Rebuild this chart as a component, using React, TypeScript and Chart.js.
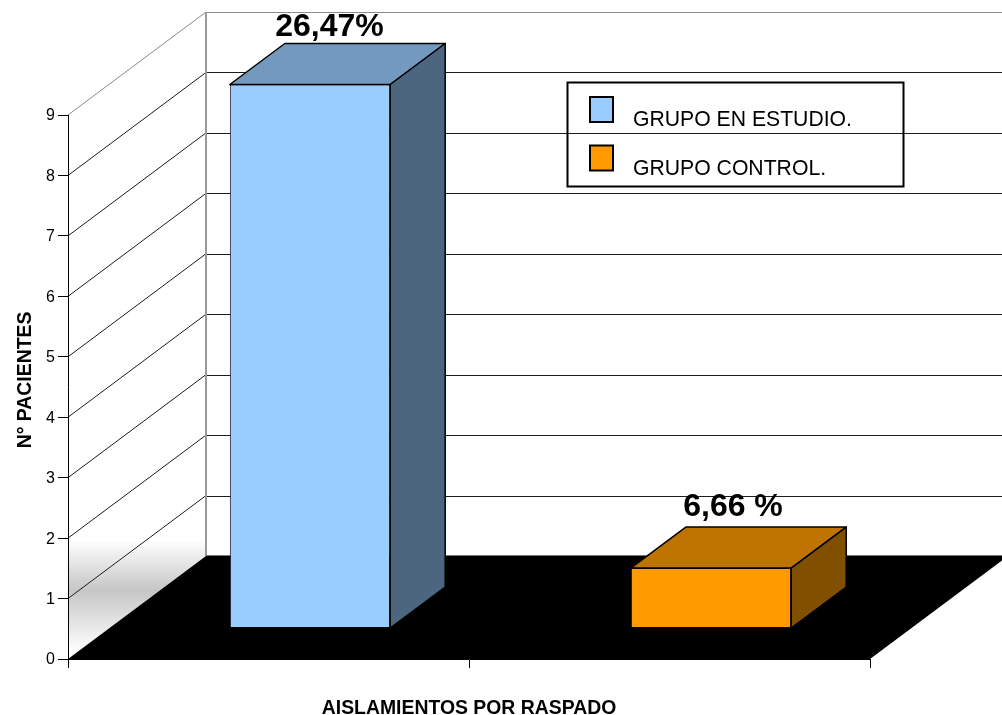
import React, { useEffect, useRef } from "react";
import { Chart, registerables } from "chart.js";

Chart.register(...registerables);

const categories = ["GRUPO EN ESTUDIO.", "GRUPO CONTROL."];
const patients = [9, 1];
const percentLabels = ["26,47%", "6,66 %"];
const frontColors = ["#99CCFF", "#FF9900"];
const topColors = ["#7399BF", "#BF7300"];
const sideColors = ["#4D6680", "#805000"];
const yTicks = [0, 1, 2, 3, 4, 5, 6, 7, 8, 9];
const yAxisTitle = "N° PACIENTES";

const FONT = "'Liberation Sans', Arial, sans-serif";
// Perspective offsets of the box: the whole floor, the bar depth and the bar's inset from the front edge.
const WALL_DX = 138;
const WALL_DY = -103;
const BAR_DX = 55;
const BAR_DY = -41;
const INSET_DX = 41.5;
const INSET_DY = -30.5;
// Where each percentage sits relative to its bar's front top centre.
const PERCENT_SHIFT_X = [19.5, 22];
const PERCENT_SHIFT_Y = [-49, -52];

const snap = (v: number) => Math.round(v) + 0.5;

function segment(ctx: CanvasRenderingContext2D, x1: number, y1: number, x2: number, y2: number, color: string, width = 1) {
  ctx.strokeStyle = color;
  ctx.lineWidth = width;
  ctx.beginPath();
  ctx.moveTo(x1, y1);
  ctx.lineTo(x2, y2);
  ctx.stroke();
}

function polygon(ctx: CanvasRenderingContext2D, pts: number[][], fill: string, stroke?: string) {
  ctx.beginPath();
  pts.forEach(([x, y], i) => (i ? ctx.lineTo(x, y) : ctx.moveTo(x, y)));
  ctx.closePath();
  ctx.fillStyle = fill;
  ctx.fill();
  if (stroke) {
    ctx.strokeStyle = stroke;
    ctx.lineWidth = 1.5;
    ctx.stroke();
  }
}

// Side wall, back wall, their grid lines and the black floor.
const roomPlugin = {
  id: "room",
  beforeDraw(chart: any) {
    const { ctx, chartArea, scales, width } = chart;
    const { left, right, top, bottom } = chartArea;
    const y = scales.y;
    ctx.save();
    ctx.fillStyle = "#FFFFFF";
    ctx.fillRect(0, 0, chart.width, chart.height);

    const band = ctx.createLinearGradient(0, 540, 0, 652);
    band.addColorStop(0, "#FFFFFF");
    band.addColorStop(0.45, "#C6C6C6");
    band.addColorStop(1, "#FFFFFF");
    polygon(ctx, [[left, 540], [left + WALL_DX, 540], [left + WALL_DX, bottom + WALL_DY], [left, bottom]], band);

    for (const v of yTicks) {
      const py = y.getPixelForValue(v);
      const backY = snap(py + WALL_DY);
      const color = v === 9 ? "#8A8A8A" : "#1C1C1C";
      if (v > 0) {
        segment(ctx, left, py, left + WALL_DX, py + WALL_DY, color);
        segment(ctx, left + WALL_DX, backY, width, backY, color);
      }
    }
    segment(ctx, left + WALL_DX, top + WALL_DY, left + WALL_DX, bottom + WALL_DY, "#9A9A9A", 2);

    polygon(ctx, [[left, bottom], [right, bottom], [right + WALL_DX, bottom + WALL_DY], [left + WALL_DX, bottom + WALL_DY]], "#000000");
    segment(ctx, left + WALL_DX, bottom + WALL_DY - 0.5, width, bottom + WALL_DY - 0.5, "#777777");
    ctx.restore();
  },
};

// The native bars are the front faces, pushed back into the room; top and side faces follow them.
const boxPlugin = {
  id: "box",
  beforeDatasetDraw(chart: any) {
    chart.ctx.save();
    chart.ctx.translate(INSET_DX, INSET_DY);
  },
  afterDatasetDraw(chart: any, args: any) {
    const { ctx } = chart;
    ctx.lineJoin = "round";
    args.meta.data.forEach((bar: any, i: number) => {
      const half = bar.width / 2;
      const l = bar.x - half;
      const r = bar.x + half;
      const t = bar.y;
      const b = bar.base;
      polygon(ctx, [[l, t], [r, t], [r + BAR_DX, t + BAR_DY], [l + BAR_DX, t + BAR_DY]], topColors[i], "#000000");
      polygon(ctx, [[r, t], [r + BAR_DX, t + BAR_DY], [r + BAR_DX, b + BAR_DY], [r, b]], sideColors[i], "#000000");
      ctx.fillStyle = "#000000";
      ctx.font = `bold 32px ${FONT}`;
      ctx.textAlign = "center";
      ctx.textBaseline = "alphabetic";
      ctx.fillText(percentLabels[i], bar.x + PERCENT_SHIFT_X[i], t + PERCENT_SHIFT_Y[i]);
    });
    ctx.restore();
  },
};

// Framed key sitting over the grid lines, plus the rotated value-axis title.
const annotationPlugin = {
  id: "annotations",
  afterDraw(chart: any) {
    const { ctx } = chart;
    ctx.save();
    ctx.strokeStyle = "#000000";
    ctx.lineWidth = 2;
    ctx.strokeRect(567.5, 82.5, 336, 104);
    categories.forEach((name, i) => {
      const rowY = 97 + i * 48.5;
      ctx.fillStyle = frontColors[i];
      ctx.fillRect(590, rowY, 23, 25);
      ctx.strokeRect(590, rowY, 23, 25);
      ctx.fillStyle = "#000000";
      ctx.font = `21.2px ${FONT}`;
      ctx.textAlign = "left";
      ctx.textBaseline = "alphabetic";
      ctx.fillText(name, 633, 126 + i * 49);
    });
    ctx.translate(30.5, 380);
    ctx.rotate(-Math.PI / 2);
    ctx.fillStyle = "#000000";
    ctx.font = `bold 19.4px ${FONT}`;
    ctx.textAlign = "center";
    ctx.textBaseline = "alphabetic";
    ctx.fillText(yAxisTitle, 0, 0);
    ctx.restore();
  },
};

export default function App() {
  const ref = useRef<HTMLCanvasElement>(null);

  useEffect(() => {
    const chart = new Chart(ref.current!, {
      type: "bar",
      data: {
        labels: categories,
        datasets: [
          {
            label: yAxisTitle,
            data: patients,
            backgroundColor: frontColors,
            borderColor: "#000000",
            borderWidth: 1,
            borderSkipped: false,
            barPercentage: 0.4,
            categoryPercentage: 1,
            clip: false,
          } as any,
        ],
      },
      options: {
        responsive: false,
        animation: false,
        layout: { padding: { left: 0, top: 115, right: 132, bottom: 0 } },
        plugins: { legend: { display: false }, tooltip: { enabled: false } },
        scales: {
          x: {
            afterFit: (s: any) => {
              s.height = 56;
            },
            ticks: { display: false },
            grid: { drawOnChartArea: false, tickLength: 9, color: "#000000", offset: true },
            border: { color: "#000000" },
            title: {
              display: true,
              text: "AISLAMIENTOS POR RASPADO",
              color: "#000000",
              font: { family: FONT, size: 19.4, weight: "bold", lineHeight: 0.65 },
              padding: { top: 0, bottom: 0 },
            },
          },
          y: {
            min: 0,
            max: 9,
            afterFit: (s: any) => {
              s.width = 68;
            },
            ticks: {
              stepSize: 1,
              color: "#000000",
              padding: 3,
              labelOffset: 1,
              font: { family: FONT, size: 16 },
            },
            grid: { drawOnChartArea: false, tickLength: 10, color: "#000000" },
            border: { color: "#000000" },
          },
        },
      },
      plugins: [roomPlugin, boxPlugin, annotationPlugin],
    } as any);
    return () => chart.destroy();
  }, []);

  return (
    <canvas
      ref={ref}
      width={1002}
      height={715}
      style={{ position: "absolute", left: 0, top: 0, display: "block" }}
    />
  );
}
